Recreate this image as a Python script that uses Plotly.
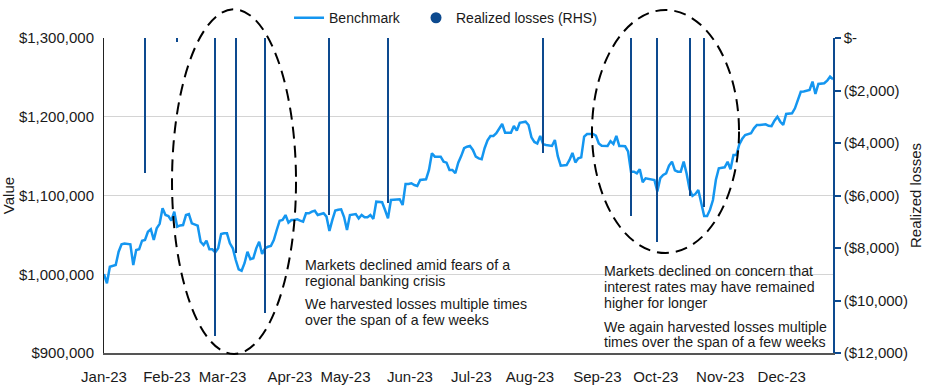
import pandas as pd
import plotly.graph_objects as go

# ---------------- data ----------------
holidays = ["2023-01-02", "2023-01-16", "2023-02-20", "2023-04-07", "2023-05-29",
            "2023-06-19", "2023-07-04", "2023-09-04", "2023-11-23", "2023-12-25"]
trading_days = pd.bdate_range("2023-01-01", "2023-12-31", freq="C", holidays=holidays)

benchmark = [
    1000300, 988500, 1009600, 1010500, 1011700, 1028600, 1038000, 1039000, 1038500, 1038000,
    1011700, 1030800, 1031700, 1042600, 1043500, 1054000, 1057100, 1043500, 1058300, 1064000,
    1083700, 1075200, 1074000, 1068000, 1079500, 1060400, 1062000, 1062500, 1075200, 1076500,
    1064700, 1063000, 1061700, 1041300, 1037100, 1042600, 1031700, 1031700, 1027900, 1033000,
    1051100, 1052000, 1052000, 1039300, 1033000, 1018100, 1006300, 1004500, 1014000, 1028600,
    1019000, 1020300, 1032900, 1041300, 1025700, 1032900, 1035000, 1035900, 1043500, 1056200,
    1068000, 1068900, 1075200, 1065500, 1068900, 1068900, 1069800, 1068000, 1066700, 1077400,
    1077400, 1079500, 1080700, 1075200, 1076100, 1077400, 1073100, 1055000, 1069000, 1081000,
    1082000, 1082500, 1072700, 1056200, 1075200, 1075500, 1076500, 1071000, 1075200, 1072300,
    1072300, 1075200, 1070300, 1092100, 1092100, 1091400, 1081600, 1071000, 1094300, 1094300,
    1094300, 1095200, 1087900, 1114600, 1114600, 1115500, 1113300, 1112100, 1119700, 1119700,
    1120600, 1132400, 1153600, 1149300, 1149300, 1149300, 1142900, 1141700, 1132400, 1132400,
    1128200, 1141700, 1150000, 1160000, 1162000, 1163000, 1157800, 1149300, 1147200, 1146000,
    1160000, 1170000, 1175600, 1175600, 1179000, 1185300, 1190800, 1179700, 1179700, 1179700,
    1188300, 1182300, 1192400, 1193000, 1193700, 1189500, 1173900, 1168000, 1166000, 1175600,
    1165000, 1164100, 1163500, 1162900, 1170500, 1150000, 1137800, 1138500, 1138700, 1145100,
    1154000, 1142000, 1147200, 1148500, 1174700, 1178100, 1178100, 1178100, 1176000, 1166000,
    1163200, 1162900, 1162900, 1169000, 1165400, 1175600, 1162900, 1162900, 1162500, 1156000,
    1130200, 1130200, 1128200, 1133300, 1117000, 1121800, 1121000, 1120500, 1119700, 1105000,
    1122000, 1126000, 1128000, 1138000, 1143000, 1132000, 1130200, 1130200, 1143000, 1128000,
    1108000, 1099400, 1102000, 1107000, 1092000, 1074000, 1074000, 1082000, 1094300, 1120000,
    1134600, 1135000, 1135800, 1142900, 1133300, 1151400, 1151400, 1165000, 1172000, 1176800,
    1177500, 1179000, 1185300, 1189500, 1189500, 1189800, 1190400, 1188500, 1188000, 1195000,
    1200100, 1193700, 1189500, 1203500, 1203500, 1204400, 1210700, 1222000, 1231800, 1232000,
    1233100, 1234000, 1244600, 1228900, 1241600, 1242000, 1242500, 1245800, 1250900, 1247600,
]

loss_dates = ["2023-01-24", "2023-02-08", "2023-02-28", "2023-03-09", "2023-03-23",
              "2023-04-25", "2023-05-23", "2023-08-09", "2023-09-21", "2023-10-04",
              "2023-10-19", "2023-10-26"]
realized_losses = [-5150, -150, -11340, -8200, -10460, -6740, -6300, -4370, -6780, -7760, -6020, -6430]

month_labels = ["Jan-23", "Feb-23", "Mar-23", "Apr-23", "May-23", "Jun-23",
                "Jul-23", "Aug-23", "Sep-23", "Oct-23", "Nov-23", "Dec-23"]
left_ticks = [900000, 1000000, 1100000, 1200000, 1300000]
right_ticks = [0, -2000, -4000, -6000, -8000, -10000, -12000]
right_ticktext = ["$-", "($2,000)", "($4,000)", "($6,000)", "($8,000)", "($10,000)", "($12,000)"]

note_lines = [
    ["Markets declined amid fears of a", "regional banking crisis"],
    ["We harvested losses multiple times", "over the span of a few weeks"],
    ["Markets declined on concern that", "interest rates may have remained", "higher for longer"],
    ["We again harvested losses multiple", "times over the span of a few weeks"],
]

# ---------------- positions on trading-day scale ----------------
n = min(len(benchmark), len(trading_days))
day_pos = list(range(n))
pos_of = {d.strftime("%Y-%m-%d"): i for i, d in enumerate(trading_days)}
loss_pos = [pos_of[d] for d in loss_dates]
month_first = []
for m in range(1, 13):
    idx = [i for i, d in enumerate(trading_days) if d.month == m][0]
    month_first.append(idx)
tick_pos = [0] + [p + 1.5 for p in month_first[1:]]

LINE = "#1496f0"
BAR = "#0d4a8f"
FONT = "Liberation Sans, Arial, sans-serif"
TXT = "#1a1a1a"

fig = go.Figure()
fig.add_trace(go.Scatter(x=day_pos, y=benchmark[:n], mode="lines", name="Benchmark",
                         line=dict(color=LINE, width=2.5), legend="legend"))
fig.add_trace(go.Bar(x=loss_pos, y=realized_losses, yaxis="y2", width=0.7,
                     marker=dict(color=BAR, line=dict(width=0)), showlegend=False,
                     name="Realized losses (RHS)"))
fig.add_trace(go.Scatter(x=[None], y=[None], mode="markers", name="Realized losses (RHS)",
                         marker=dict(symbol="circle", color=BAR, size=11), legend="legend2"))

leg_common = dict(orientation="h", xanchor="left", y=1.063, yanchor="middle",
                  font=dict(size=14, color=TXT), bgcolor="rgba(0,0,0,0)", itemwidth=30)

fig.update_layout(
    width=930, height=387,
    margin=dict(l=104, r=97, t=38, b=34, autoexpand=False),
    plot_bgcolor="white", paper_bgcolor="white",
    font=dict(family=FONT, size=15, color=TXT),
    showlegend=True,
    legend=dict(x=0.2538, **leg_common),
    legend2=dict(x=0.428, **leg_common),
    xaxis=dict(range=[0, n - 1], tickmode="array", tickvals=tick_pos, ticktext=month_labels,
               showgrid=False, zeroline=False, showline=True, linecolor="#555555", linewidth=1.5,
               ticks="outside", ticklen=9, tickcolor="rgba(0,0,0,0)", tickfont=dict(size=15)),
    yaxis=dict(range=[900000, 1300000], tickmode="array", tickvals=left_ticks,
               tickformat="$,.0f", showgrid=True, gridcolor="#d4d4d4", gridwidth=1,
               zeroline=False, showline=True, linecolor="#222222", linewidth=1,
               ticks="outside", ticklen=6, tickcolor="rgba(0,0,0,0)", tickfont=dict(size=15),
               title=dict(text="Value", standoff=4, font=dict(size=15))),
    yaxis2=dict(range=[-12000, 0], overlaying="y", side="right", tickmode="array",
                tickvals=right_ticks, ticktext=right_ticktext, showgrid=False, zeroline=False,
                showline=True, linecolor=BAR, linewidth=1.5, ticks="outside", ticklen=6,
                tickcolor=BAR, tickwidth=1.5, tickfont=dict(size=15),
                title=dict(text="Realized losses", standoff=4, font=dict(size=15))),
    bargap=0,
)

# white panels behind annotation text (interrupt gridlines)
for x0, x1, y0, y1 in [(0.2606, 0.583, 0.073, 0.305), (0.680, 0.997, 0.006, 0.298)]:
    fig.add_shape(type="rect", xref="paper", yref="paper", x0=x0, x1=x1, y0=y0, y1=y1,
                  fillcolor="white", line=dict(width=0), layer="between")

# dashed ellipses
for x0, x1, y0, y1 in [(0.0933, 0.2634, -0.003, 1.091), (0.6694, 0.8711, 0.3175, 1.0889)]:
    fig.add_shape(type="circle", xref="paper", yref="paper", x0=x0, x1=x1, y0=y0, y1=y1,
                  line=dict(color="black", width=2, dash="12px,7px"), layer="above")

# note text, one annotation per line (pixel rows converted to paper units)
note_x = [0.2743, 0.2743, 0.6845, 0.6845]
note_rows = [[265, 281], [304, 320], [271, 287, 303], [327, 342]]
for para, nx, rows in zip(note_lines, note_x, note_rows):
    for line, py in zip(para, rows):
        fig.add_annotation(xref="paper", yref="paper", x=nx, y=(353 - py) / 315,
                           xanchor="left", yanchor="middle", text=line, align="left",
                           showarrow=False, borderpad=0,
                           font=dict(family=FONT, size=14.2, color=TXT))

fig.write_html("out.html", config={"displayModeBar": False},
               post_script="document.body.style.margin='0px';")
